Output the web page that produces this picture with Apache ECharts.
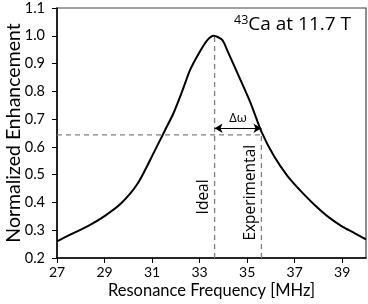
<!DOCTYPE html>
<html>
<head>
<meta charset="utf-8">
<script src="https://cdn.jsdelivr.net/npm/echarts@6/dist/echarts.min.js"></script>
<style>html,body{margin:0;padding:0;background:#fff;}#c{width:368px;height:304px;}</style>
</head>
<body>
<div id="c"></div>
<script>
const freq = [27, 27.6, 28.3, 29.0, 29.7, 30.4, 31.1, 31.55, 31.9, 32.26, 32.6, 32.97, 33.3, 33.6, 33.95, 34.2, 34.7, 35.15, 35.6, 36.14, 36.7, 37.28, 37.84, 38.4, 38.97, 39.53, 40];
const enhancement = [0.26, 0.286, 0.315, 0.351, 0.397, 0.469, 0.584, 0.661, 0.721, 0.799, 0.877, 0.937, 0.982, 1.0, 0.985, 0.94, 0.845, 0.757, 0.655, 0.565, 0.495, 0.439, 0.391, 0.349, 0.315, 0.289, 0.267];
const idealFreq = 33.63;
const experimentalFreq = 35.6;
const halfLevel = 0.643;
const arrowLevel = 0.667;
const peakLevel = 1.0;
const xTicks = {min: 27, max: 40, interval: 2};
const yTicks = {min: 0.2, max: 1.1, interval: 0.1};

const FONT = 'Lato';
const FONT2 = 'Open Sans';
const chart = echarts.init(document.getElementById('c'));
const dash = {color: '#808080', width: 1.3, type: [5, 4]};
chart.setOption({
  animation: false,
  grid: {left: 57, right: 2, top: 8, bottom: 46, show: true, borderColor: '#444', borderWidth: 1.2, containLabel: false, outerBoundsMode: 'none'},
  title: {
    text: '{sup|43}{n|Ca at 11.7 T}', right: 12, top: 9,
    textStyle: {rich: {sup: {fontFamily: FONT2, fontSize: 12.5, fontWeight: 'normal', color: '#000', verticalAlign: 'top', padding: [0,0,9,0]}, n: {fontFamily: FONT2, fontSize: 19, fontWeight: 'normal', color: '#000'}}}
  },
  xAxis: {
    type: 'value', min: xTicks.min, max: xTicks.max, interval: xTicks.interval,
    name: 'Resonance Frequency [MHz]', nameLocation: 'middle', nameGap: 24, nameMoveOverlap: false,
    nameTextStyle: {fontFamily: FONT, fontSize: 16.5, color: '#000'},
    axisLine: {lineStyle: {color: '#000', width: 1.5}},
    axisTick: {length: 5, lineStyle: {color: '#000'}},
    axisLabel: {fontFamily: FONT, fontSize: 14, color: '#000', margin: 7, showMaxLabel: false},
    splitLine: {show: false}
  },
  yAxis: {
    type: 'value', min: yTicks.min, max: yTicks.max, interval: yTicks.interval,
    name: 'Normalized Enhancement', nameLocation: 'middle', nameGap: 33, nameMoveOverlap: false,
    nameTextStyle: {fontFamily: FONT, fontSize: 19.5, color: '#000'},
    axisLine: {show: true, lineStyle: {color: '#000', width: 1.5}},
    axisTick: {show: true, length: 5, lineStyle: {color: '#000'}},
    axisLabel: {fontFamily: FONT, fontSize: 14.5, color: '#000', margin: 12, formatter: v => v.toFixed(1)},
    splitLine: {show: false}
  },
  series: [
    {type: 'line', data: [[xTicks.min, halfLevel], [experimentalFreq, halfLevel]], symbol: 'none', lineStyle: dash, silent: true},
    {type: 'line', data: [[idealFreq, yTicks.min], [idealFreq, peakLevel]], symbol: 'none', lineStyle: dash, silent: true},
    {type: 'line', data: [[experimentalFreq, yTicks.min], [experimentalFreq, halfLevel]], symbol: 'none', lineStyle: dash, silent: true},
    {type: 'line', data: freq.map((f, i) => [f, enhancement[i]]), symbol: 'none', smooth: 0.25,
     lineStyle: {color: '#000', width: 2}, z: 5,
     markLine: {silent: true, symbol: ['arrow', 'arrow'], symbolSize: [7, 8],
       lineStyle: {color: '#000', width: 1.2, type: 'solid'},
       label: {show: true, position: 'middle', formatter: 'Δω', fontFamily: FONT2, fontSize: 13, color: '#000', distance: 3},
       data: [[{coord: [idealFreq, arrowLevel]}, {coord: [experimentalFreq, arrowLevel]}]]
     }}
  ]
});
const pIdeal = chart.convertToPixel({gridIndex: 0}, [idealFreq, 0.42]);
const pExp = chart.convertToPixel({gridIndex: 0}, [experimentalFreq, 0.435]);
chart.setOption({
  graphic: [
    {type: 'text', x: pIdeal[0] - 11, y: pIdeal[1], rotation: Math.PI / 2,
     style: {text: 'Ideal', font: '15.5px "' + FONT2 + '"', fill: '#000', align: 'center', verticalAlign: 'middle'}},
    {type: 'text', x: pExp[0] - 11, y: pExp[1], rotation: Math.PI / 2,
     style: {text: 'Experimental', font: '15.5px "' + FONT2 + '"', fill: '#000', align: 'center', verticalAlign: 'middle'}}
  ]
});
</script>
</body>
</html>
